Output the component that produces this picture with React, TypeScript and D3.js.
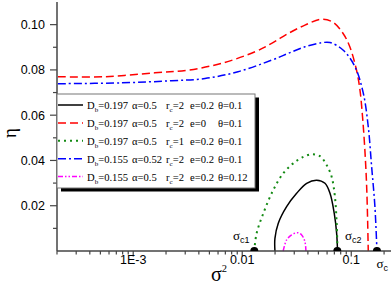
import React from "react";
import * as d3 from "d3";

const W = 392;
const H = 286;

// curves: sigma^2 (log x) and eta
const blackSig = [0.01995, 0.01995, 0.02138, 0.02553, 0.03155, 0.03899, 0.04819, 0.05741, 0.06383, 0.06982, 0.07345, 0.0748];
const blackEta = [0, 0.0056, 0.0122, 0.0196, 0.0255, 0.0299, 0.0313, 0.0299, 0.0255, 0.0166, 0.0078, 0];

const redSig = [2.04e-4, 5.5e-4, 1.58e-3, 3.18e-3, 6.47e-3, 0.0131, 0.0186, 0.0264, 0.0376, 0.0535, 0.0679, 0.0839, 0.0972, 0.1122, 0.1202, 0.128, 0.1349, 0.1393, 0.1432];
const redEta = [0.077, 0.077, 0.0787, 0.0799, 0.0829, 0.088, 0.0917, 0.0961, 0.0998, 0.1024, 0.1011, 0.0962, 0.0901, 0.0795, 0.0711, 0.057, 0.0402, 0.0247, 0];

const greenSig = [0.01288, 0.01355, 0.0156, 0.01923, 0.02376, 0.02938, 0.03632, 0.04339, 0.05164, 0.05943, 0.06607, 0.07079, 0.07345, 0.0748];
const greenEta = [0, 0.0078, 0.0166, 0.0269, 0.0343, 0.0387, 0.0416, 0.0427, 0.0419, 0.038, 0.0328, 0.024, 0.0124, 0];

const blueSig = [2.04e-4, 7.83e-4, 2.25e-3, 4.55e-3, 9.14e-3, 0.0186, 0.0264, 0.0376, 0.0535, 0.0638, 0.0845, 0.1081, 0.1288, 0.1432, 0.1538, 0.1648, 0.172];
const blueEta = [0.0739, 0.0743, 0.0752, 0.0762, 0.0792, 0.0843, 0.0873, 0.0902, 0.092, 0.0921, 0.0887, 0.0814, 0.0698, 0.0549, 0.0372, 0.0196, 0];

const magSig = [0.02376, 0.02553, 0.02838, 0.03199, 0.03508, 0.03758, 0.03837];
const magEta = [0, 0.0049, 0.0071, 0.0081, 0.0071, 0.0041, 0];

// legend parameters
const Db = ["0.197", "0.197", "0.197", "0.155", "0.155"];
const alpha = ["0.5", "0.5", "0.5", "0.52", "0.5"];
const rc = ["2", "2", "1", "2", "2"];
const ee = ["0.2", "0", "0.2", "0.2", "0.2"];
const theta = ["0.1", "0.1", "0.1", "0.1", "0.12"];

// critical points marked on the axis
const critSig = [0.0129, 0.0745, 0.172];

const yMajor = [0.02, 0.04, 0.06, 0.08, 0.1];
const yMinor = [0.01, 0.03, 0.05, 0.07, 0.09];
const xLabels: Record<string, string> = { "-3": "1E-3", "-2": "0.01", "-1": "0.1" };

const series = [
  { sig: blackSig, eta: blackEta, color: "#000", dash: "none", w: 1.5 },
  { sig: redSig, eta: redEta, color: "#ff0000", dash: "8,4", w: 1.5 },
  { sig: greenSig, eta: greenEta, color: "#138a13", dash: "2,4", w: 2 },
  { sig: blueSig, eta: blueEta, color: "#0000ff", dash: "8,3,2,3", w: 1.5 },
  { sig: magSig, eta: magEta, color: "#ff00ff", dash: "5,2,1.5,2,1.5,2", w: 1.5 },
];

const App = () => {
  const x = d3.scaleLog().domain([2e-4, 0.23]).range([57, 390.7]);
  const y = d3.scaleLinear().domain([0, 0.11]).range([251, 2]);
  const line = d3
    .line<[number, number]>()
    .x(d => x(d[0]))
    .y(d => y(d[1]))
    .curve(d3.curveCatmullRom.alpha(0.5));
  const half = d3.arc()({ innerRadius: 0, outerRadius: 4, startAngle: -Math.PI / 2, endAngle: Math.PI / 2 }) as string;

  const xt = x.ticks();
  const y0 = y(0);
  const axisCol = "#444";
  const sans = "Liberation Sans, Arial, sans-serif";
  const serif = "Liberation Serif, Times New Roman, serif";

  const legTop = 94;
  const rowH = 17.9;
  const cols = [87, 132, 166, 190, 218];

  return (
    <svg width={W} height={H} style={{ position: "absolute", left: 0, top: 0, background: "#fff" }}>
      {/* curves */}
      {series.map((s, i) => (
        <path
          key={i}
          d={line(s.sig.map((v, j) => [v, s.eta[j]] as [number, number])) || ""}
          fill="none"
          stroke={s.color}
          strokeWidth={s.w}
          strokeDasharray={s.dash}
        />
      ))}

      {/* axes */}
      <line x1={57} x2={57} y1={2} y2={y0} stroke={axisCol} strokeWidth={1.5} />
      <line x1={57} x2={391} y1={y0} y2={y0} stroke={axisCol} strokeWidth={1.5} />
      {yMajor.map(v => (
        <g key={"ym" + v}>
          <line x1={50} x2={57} y1={y(v)} y2={y(v)} stroke={axisCol} strokeWidth={1.2} />
          <text x={45} y={y(v) + 4.5} textAnchor="end" fontFamily={sans} fontSize={12.5}>
            {v.toFixed(2)}
          </text>
        </g>
      ))}
      {yMinor.map(v => (
        <line key={"yn" + v} x1={53} x2={57} y1={y(v)} y2={y(v)} stroke={axisCol} strokeWidth={1.2} />
      ))}
      {xt.map((v, i) => {
        const lg = Math.log10(v);
        const major = Math.abs(lg - Math.round(lg)) < 1e-6;
        return (
          <g key={"xt" + i}>
            <line x1={x(v)} x2={x(v)} y1={y0} y2={y0 + (major ? 5.5 : 3.5)} stroke={axisCol} strokeWidth={1.2} />
            {major && (
              <text x={x(v)} y={263.5} textAnchor="middle" fontFamily={sans} fontSize={12.5}>
                {xLabels[String(Math.round(lg))]}
              </text>
            )}
          </g>
        );
      })}

      {/* axis titles */}
      <text transform="translate(16,133) rotate(-90)" textAnchor="middle" fontFamily={serif} fontSize={19}>
        η
      </text>
      <text x={211} y={281} fontFamily={serif} fontSize={20}>
        σ<tspan dy={-9} fontSize={10.5}>2</tspan>
      </text>

      {/* critical points */}
      {critSig.map((v, i) => (
        <path key={"c" + i} d={half} transform={`translate(${x(v)},${y0})`} fill="#000" />
      ))}
      <text x={233} y={240} fontFamily={serif} fontSize={13}>
        σ<tspan dy={3} fontSize={9} fontFamily={sans}>c1</tspan>
      </text>
      <text x={345} y={240} fontFamily={serif} fontSize={13}>
        σ<tspan dy={3} fontSize={9} fontFamily={sans}>c2</tspan>
      </text>
      <text x={376.5} y={268} fontFamily={serif} fontSize={13}>
        σ<tspan dy={3} fontSize={9} fontFamily={sans}>c</tspan>
      </text>

      {/* legend */}
      <rect x={61} y={legTop + 3.5} width={198} height={94} fill="#000" />
      <rect x={57} y={legTop} width={198} height={94} fill="#fff" stroke="#777" strokeWidth={1} />
      {series.map((s, i) => {
        const cy = legTop + 11 + i * rowH;
        const by = cy + 4;
        return (
          <g key={"lg" + i} fontFamily={serif} fontSize={10.6}>
            <line x1={58} x2={83} y1={cy} y2={cy} stroke={s.color} strokeWidth={s.w} strokeDasharray={s.dash} />
            <text x={cols[0]} y={by}>
              D<tspan dy={3} fontSize={7}>b</tspan>
              <tspan dy={-3}>={Db[i]}</tspan>
            </text>
            <text x={cols[1]} y={by}>α={alpha[i]}</text>
            <text x={cols[2]} y={by}>
              r<tspan dy={3} fontSize={7}>c</tspan>
              <tspan dy={-3}>={rc[i]}</tspan>
            </text>
            <text x={cols[3]} y={by}>e={ee[i]}</text>
            <text x={cols[4]} y={by}>θ={theta[i]}</text>
          </g>
        );
      })}
    </svg>
  );
};

export default App;
